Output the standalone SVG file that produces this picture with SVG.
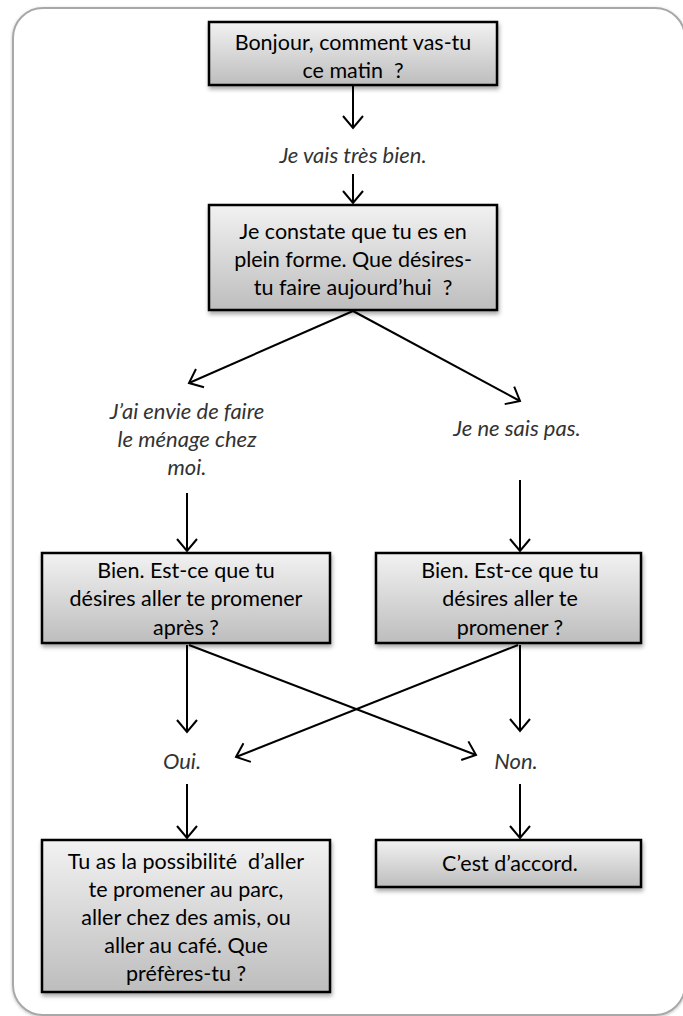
<svg xmlns="http://www.w3.org/2000/svg" width="683" height="1016" viewBox="0 0 683 1016">
<style>
.box{fill:url(#g);stroke:#000;stroke-width:2.5;filter:url(#sh)}
.t{font-family:Lato,"Liberation Sans",sans-serif;font-size:21.5px;fill:#000;text-anchor:middle;white-space:pre}
.i{font-family:Lato,"Liberation Sans",sans-serif;font-size:22px;font-style:italic;fill:#333;text-anchor:middle}
.c{stroke:#000;stroke-width:2;fill:none;marker-end:url(#a)}
</style>
<defs>
<linearGradient id="g" x1="0" y1="0" x2="0" y2="1">
<stop offset="0" stop-color="#f2f2f2"/>
<stop offset="1" stop-color="#bdbdbd"/>
</linearGradient>
<filter id="sh" x="-10%" y="-10%" width="130%" height="140%">
<feDropShadow dx="1" dy="3" stdDeviation="2" flood-color="#000" flood-opacity="0.35"/>
</filter>
<filter id="sh2" x="-5%" y="-5%" width="110%" height="110%">
<feDropShadow dx="0" dy="1" stdDeviation="1.5" flood-color="#000" flood-opacity="0.25"/>
</filter>
<marker id="a" markerUnits="userSpaceOnUse" markerWidth="16" markerHeight="24" refX="13" refY="11" orient="auto">
<path d="M1,1 L13,11 L1,21" fill="none" stroke="#000" stroke-width="2"/>
</marker>
</defs>
<rect x="13" y="8" width="672" height="1007" rx="30" fill="#fff" stroke="#a8a8a8" stroke-width="2" filter="url(#sh2)"/>
<g id="connectors">
<line class="c" x1="353" y1="86" x2="353" y2="128"/>
<line class="c" x1="353" y1="174" x2="353" y2="203"/>
<line class="c" x1="353" y1="311" x2="189" y2="383"/>
<line class="c" x1="353" y1="311" x2="520" y2="401"/>
<line class="c" x1="187" y1="493" x2="187" y2="551"/>
<line class="c" x1="520" y1="480" x2="520" y2="551"/>
<line class="c" x1="187" y1="645" x2="187" y2="732"/>
<line class="c" x1="189" y1="645" x2="476" y2="755"/>
<line class="c" x1="520" y1="645" x2="520" y2="731"/>
<line class="c" x1="518" y1="645" x2="236" y2="757"/>
<line class="c" x1="187" y1="784" x2="187" y2="838"/>
<line class="c" x1="520" y1="784" x2="520" y2="838"/>
</g>
<g id="n1">
<rect class="box" x="209" y="22" width="288" height="63"/>
<text class="t" x="353" y="50">Bonjour, comment vas-tu</text>
<text class="t" x="353" y="78" xml:space="preserve">ce matin  ?</text>
</g>
<g id="n2">
<text class="i" x="353" y="163">Je vais très bien.</text>
</g>
<g id="n3">
<rect class="box" x="209" y="205" width="288" height="105"/>
<text class="t" x="353" y="239">Je constate que tu es en</text>
<text class="t" x="353" y="267">plein forme. Que désires-</text>
<text class="t" x="353" y="295" xml:space="preserve">tu faire aujourd’hui  ?</text>
</g>
<g id="n4">
<text class="i" x="187" y="419">J’ai envie de faire</text>
<text class="i" x="187" y="447">le ménage chez</text>
<text class="i" x="187" y="475">moi.</text>
</g>
<g id="n5">
<text class="i" x="517" y="436">Je ne sais pas.</text>
</g>
<g id="n6">
<rect class="box" x="42" y="553" width="288" height="90"/>
<text class="t" x="186" y="578">Bien. Est-ce que tu</text>
<text class="t" x="186" y="606">désires aller te promener</text>
<text class="t" x="186" y="635">après ?</text>
</g>
<g id="n7">
<rect class="box" x="376" y="553" width="265" height="90"/>
<text class="t" x="510" y="578">Bien. Est-ce que tu</text>
<text class="t" x="510" y="606">désires aller te</text>
<text class="t" x="510" y="635">promener ?</text>
</g>
<g id="n8">
<text class="i" x="182" y="769">Oui.</text>
</g>
<g id="n9">
<text class="i" x="516" y="769">Non.</text>
</g>
<g id="n10">
<rect class="box" x="42" y="840" width="288" height="152"/>
<text class="t" x="186" y="869" xml:space="preserve">Tu as la possibilité  d’aller</text>
<text class="t" x="186" y="897">te promener au parc,</text>
<text class="t" x="186" y="925">aller chez des amis, ou</text>
<text class="t" x="186" y="953">aller au café. Que</text>
<text class="t" x="186" y="981">préfères-tu ?</text>
</g>
<g id="n11">
<rect class="box" x="376" y="840" width="265" height="47"/>
<text class="t" x="510" y="871">C’est d’accord.</text>
</g>
</svg>
